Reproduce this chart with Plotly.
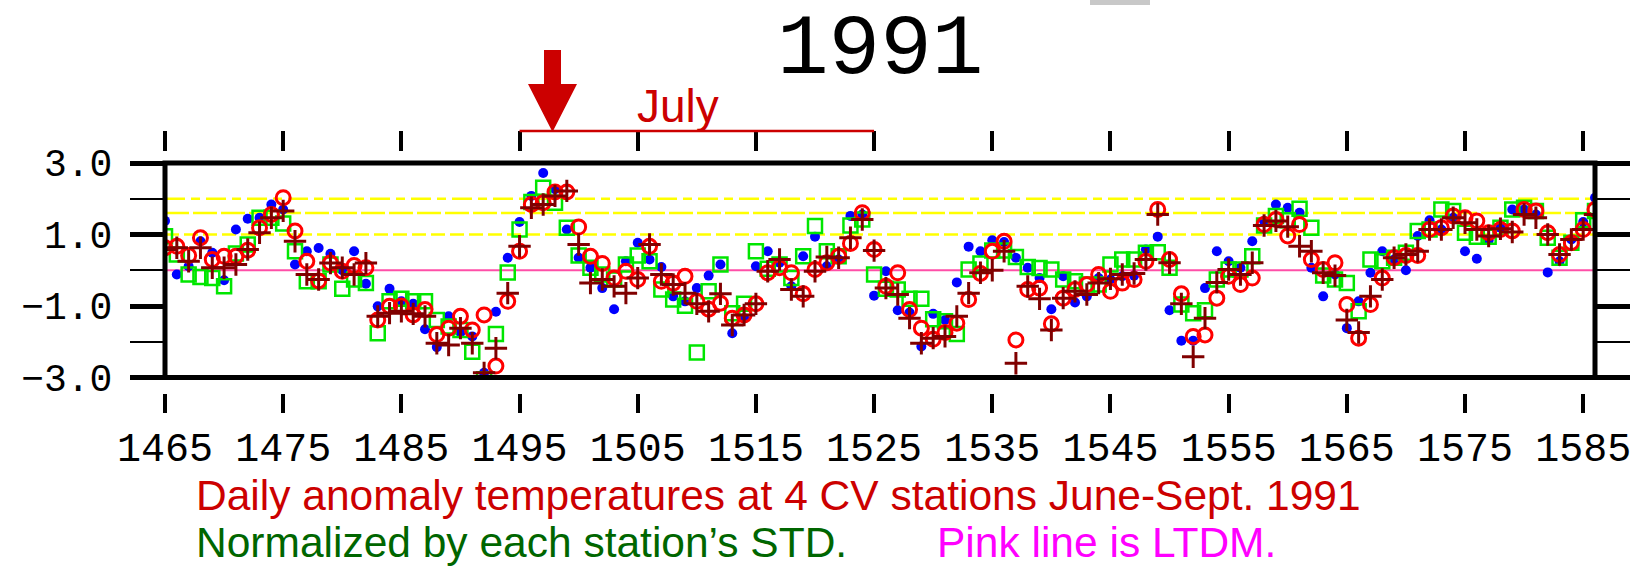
import plotly.graph_objects as go

# ---- data: daily anomalies, day index 1465..1586 (June - Sept 1991) ----
days = list(range(1465, 1587))

station_blue = [
    1.38, -0.12, 0.11, 0.81, 0.49, -0.28, 1.14, 1.44, 1.47, 1.84,
    1.70, 0.16, 0.53, 0.62, 0.46, 0.00, 0.53, -0.38, -1.01, -0.52,
    -0.87, -0.94, -1.65, -2.15, -1.29, -1.74, -1.85, -2.87, -1.16, 0.35,
    1.35, 2.08, 2.72, 2.27, 1.14, 0.35, 0.07, -0.50, -1.09, 0.25,
    0.77, 0.30, 0.09, -0.73, -0.87, -0.50, -0.15, 0.16, -1.76, -1.34,
    0.11, 0.53, 0.21, -0.45, 0.39, 0.94, 0.11, 0.30, 1.52, 1.56,
    -0.71, -0.03, -1.12, -1.18, -2.13, -1.22, -1.39, -0.34, 0.66, 0.53,
    0.84, 0.79, 0.35, 0.07, -0.22, -1.09, -0.17, -0.90, -0.73, -0.22,
    -0.26, -0.17, -0.15, 0.58, 0.94, -1.12, -1.97, -1.97, -0.50, 0.53,
    0.25, 0.07, 0.81, 1.38, 1.84, 1.75, 1.61, 0.07, -0.73, -0.12,
    -1.62, -0.87, -0.07, 0.53, 0.30, 0.00, 0.96, 1.40, 1.14, 1.47,
    0.53, 0.32, 0.84, 1.19, 1.70, 1.70, 1.56, -0.06, 0.25, 0.86,
    1.35, 2.03,
]

station_red = [
    0.63, 0.67, 0.41, 0.91, 0.30, 0.39, 0.39, 0.56, 1.19, 1.56,
    2.03, 1.10, 0.25, -0.30, 0.20, -0.03, 0.13, 0.07, -1.39, -1.01,
    -1.00, -1.25, -1.10, -1.80, -1.62, -1.29, -1.67, -1.25, -2.68, -0.87,
    0.53, 1.84, 1.89, 2.19, 2.19, 1.21, 0.39, 0.19, -0.22, -0.03,
    -0.26, 0.67, -0.31, -0.36, -0.17, -0.87, -1.09, -0.92, -1.34, -1.25,
    -0.94, -0.07, 0.07, -0.07, -0.66, 0.02, 0.21, 0.39, 0.75, 1.61,
    0.58, -0.45, -0.07, -1.10, -1.62, -1.93, -1.74, -1.48, -0.82, -0.09,
    0.53, 0.81, -1.95, -0.54, -0.50, -1.50, -0.78, -0.54, -0.40, -0.12,
    -0.59, -0.36, -0.26, 0.25, 1.70, 0.30, -0.66, -1.85, -1.81, -0.78,
    -0.17, -0.40, -0.22, 1.28, 1.42, 0.96, 1.28, 0.30, 0.02, 0.21,
    -0.96, -1.90, -0.96, -0.22, 0.35, 0.41, 0.41, 1.14, 1.19, 1.52,
    1.47, 1.38, 1.05, 1.14, 1.10, 1.70, 1.66, 1.05, 0.44, 0.77,
    1.14, 1.70,
]

station_plus = [
    0.58, 0.63, 0.25, 0.63, 0.07, 0.07, 0.16, 0.58, 1.05, 1.47,
    1.66, 0.81, -0.12, -0.26, 0.20, 0.07, -0.12, 0.20, -1.29, -1.20,
    -1.15, -1.22, -1.29, -2.04, -2.09, -1.62, -2.04, -2.87, -2.18, -0.64,
    0.67, 1.75, 1.84, 2.08, 2.22, 0.72, -0.36, -0.26, -0.45, -0.64,
    -0.22, 0.72, -0.12, -0.40, -0.64, -0.94, -1.15, -0.66, -1.53, -1.25,
    -0.94, -0.03, 0.30, -0.54, -0.73, -0.03, 0.37, 0.35, 0.91, 1.42,
    0.55, -0.50, -0.68, -1.34, -2.04, -1.90, -1.85, -1.29, -0.64, -0.07,
    0.00, 0.53, -2.60, -0.45, -0.80, -1.67, -0.78, -0.59, -0.68, -0.36,
    -0.24, -0.12, -0.09, 0.30, 1.56, 0.21, -0.94, -2.42, -1.34, -0.34,
    0.02, -0.12, 0.21, 1.25, 1.38, 1.22, 0.67, 0.53, -0.07, -0.15,
    -1.39, -1.74, -0.73, -0.26, 0.35, 0.44, 0.53, 1.14, 1.14, 1.47,
    1.33, 1.14, 0.96, 1.16, 1.07, 1.56, 1.47, 1.00, 0.44, 0.86,
    1.14, 1.56,
]

station_green = [
    0.95, 0.44, -0.12, -0.19, -0.22, -0.45, 0.47, 0.72, 1.47, 1.47,
    1.31, 0.53, -0.31, -0.31, 0.16, -0.52, -0.26, -0.36, -1.76, -0.87,
    -0.80, -0.87, -0.87, -1.39, -1.57, -1.67, -2.28, -3.05, -1.78, -0.06,
    1.14, 1.91, 2.31, 1.89, 1.19, 0.41, 0.07, -0.12, -0.26, 0.16,
    0.41, 0.25, -0.54, -0.82, -0.99, -2.30, -0.59, 0.16, -1.20, -0.94,
    0.53, 0.04, 0.16, -0.22, 0.39, 1.24, 0.53, 0.39, 1.25, 1.42,
    -0.12, -0.52, -0.54, -0.80, -0.80, -1.37, -1.43, -1.78, 0.02, 0.19,
    0.55, 0.55, 0.37, 0.09, 0.06, 0.02, -0.26, -0.31, -0.40, -0.40,
    0.16, 0.30, 0.30, 0.49, 0.50, 0.07, -0.96, -1.20, -1.12, -0.26,
    0.02, 0.02, 0.39, 1.25, 1.52, 1.40, 1.72, 1.19, -0.15, -0.26,
    -0.36, -1.15, 0.30, 0.25, 0.35, 0.49, 1.10, 1.14, 1.70, 1.66,
    1.05, 0.94, 0.94, 1.19, 1.70, 1.75, 1.66, 0.91, 0.35, 0.77,
    1.40, 1.66,
]

# reference levels
ltdm_level = 0.0
yellow_levels = [1.0, 1.6, 2.0]
yellow_dashes = ["14px,5px", "24px,4px", "20px,6px,9px,6px"]

# axes
x_range = [1465, 1586]
x_tickvals = list(range(1465, 1586, 10))
x_ticktext = [str(v) for v in x_tickvals]
y_range = [-3, 3]
y_tickvals = [-3, -1, 1, 3]
y_ticktext = ["\u22123.0", "\u22121.0", "1.0", "3.0"]
y_minor_vals = [-2, 0, 2]

july_span = [1495, 1525]

# ---- figure geometry (pixel -> paper helpers) ----
W, H = 1643, 567


def px(x):
    return x / W


def py(y):
    return 1 - y / H


MONO = "Liberation Mono"
SANS = "Liberation Sans, Arial"

fig = go.Figure()

fig.add_trace(go.Scatter(
    x=days, y=station_blue, mode="markers", showlegend=False,
    marker=dict(symbol="circle", size=10, color="#0000ff", line=dict(width=0)),
))
fig.add_trace(go.Scatter(
    x=days, y=station_green, mode="markers", showlegend=False,
    marker=dict(symbol="square-open", size=14, color="#00e600",
                line=dict(width=2.5, color="#00e600")),
))
fig.add_trace(go.Scatter(
    x=days, y=station_red, mode="markers", showlegend=False,
    marker=dict(symbol="circle-open", size=14, color="#ff0000",
                line=dict(width=3, color="#ff0000")),
))
fig.add_trace(go.Scatter(
    x=days, y=station_plus, mode="markers", showlegend=False,
    marker=dict(symbol="cross-thin-open", size=16, color="#800000",
                line=dict(width=3, color="#800000")),
))
# empty trace to carry the top tick axis
fig.add_trace(go.Scatter(x=[], y=[], xaxis="x2", showlegend=False,
                         hoverinfo="skip"))

shapes = []
# reference lines
for lvl, dash in zip(yellow_levels, yellow_dashes):
    shapes.append(dict(type="line", xref="x domain", yref="y", x0=0, x1=1,
                       y0=lvl, y1=lvl, layer="below",
                       line=dict(color="#ffff00", width=2.5, dash=dash)))
shapes.append(dict(type="line", xref="x domain", yref="y", x0=0, x1=1,
                   y0=ltdm_level, y1=ltdm_level, layer="below",
                   line=dict(color="#ff4fa8", width=2)))
# frame
shapes.append(dict(type="rect", xref="x domain", yref="y domain",
                   x0=0, x1=1, y0=0, y1=1, layer="above",
                   line=dict(color="black", width=5)))
# July bracket line
shapes.append(dict(type="line", xref="x", yref="paper",
                   x0=july_span[0], x1=july_span[1], y0=py(131), y1=py(131),
                   line=dict(color="#cc0000", width=2.5)))
# red arrow (shaft + head)
ax_c = 552.5
arrow_path = (
    f"M {px(ax_c - 8.5)},{py(50)} L {px(ax_c + 8.5)},{py(50)} "
    f"L {px(ax_c + 8.5)},{py(84)} L {px(ax_c + 24.5)},{py(84)} "
    f"L {px(ax_c)},{py(132)} L {px(ax_c - 24.5)},{py(84)} "
    f"L {px(ax_c - 8.5)},{py(84)} Z"
)
shapes.append(dict(type="path", xref="paper", yref="paper", path=arrow_path,
                   fillcolor="#cc0000", line=dict(width=0)))
# small grey block at the top edge
shapes.append(dict(type="rect", xref="paper", yref="paper",
                   x0=px(1090), x1=px(1150), y0=py(5), y1=py(0),
                   fillcolor="#c8c8c8", line=dict(width=0)))

annotations = [
    dict(text="1991", x=px(880), y=py(50), xref="paper", yref="paper",
         showarrow=False, xanchor="center", yanchor="middle",
         font=dict(family=MONO, size=86, color="black")),
    dict(text="July", x=px(677.5), y=py(106), xref="paper", yref="paper",
         showarrow=False, xanchor="center", yanchor="middle",
         font=dict(family=SANS, size=46, color="#cc0000")),
    dict(text="Daily anomaly temperatures at 4 CV stations June-Sept. 1991",
         x=px(194), y=py(495), xref="paper", yref="paper", showarrow=False,
         xanchor="left", yanchor="middle",
         font=dict(family=SANS, size=42.5, color="#cc0000")),
    dict(text="Normalized by each station\u2019s STD.",
         x=px(194), y=py(542.5), xref="paper", yref="paper", showarrow=False,
         xanchor="left", yanchor="middle",
         font=dict(family=SANS, size=42.5, color="#006600")),
    dict(text="Pink line is LTDM.",
         x=px(935), y=py(542.5), xref="paper", yref="paper", showarrow=False,
         xanchor="left", yanchor="middle",
         font=dict(family=SANS, size=42.5, color="#ff00ff")),
]

fig.update_layout(
    width=W, height=H,
    margin=dict(l=0, r=0, t=0, b=0),
    paper_bgcolor="white", plot_bgcolor="white",
    showlegend=False,
    xaxis=dict(
        domain=[px(165), px(1595)], range=x_range,
        anchor="free", position=py(393),
        tickmode="array", tickvals=x_tickvals, ticktext=x_ticktext,
        ticks="outside", ticklen=19, tickwidth=4, tickcolor="black",
        showline=False, showgrid=False, zeroline=False,
        tickfont=dict(family=MONO, size=40, color="black"),
        automargin=False,
    ),
    xaxis2=dict(
        overlaying="x", matches="x", side="top",
        anchor="free", position=py(151), range=x_range,
        tickmode="array", tickvals=x_tickvals,
        ticks="outside", ticklen=20, tickwidth=4, tickcolor="black",
        showticklabels=False, showline=False, showgrid=False, zeroline=False,
        automargin=False,
    ),
    yaxis=dict(
        domain=[py(377.5), py(163)], range=y_range,
        tickmode="array", tickvals=y_tickvals, ticktext=y_ticktext,
        ticks="outside", ticklen=34, tickwidth=5, tickcolor="black",
        mirror="allticks", showline=False, showgrid=False, zeroline=False,
        minor=dict(tickvals=y_minor_vals, ticks="outside", ticklen=17,
                   tickwidth=2, tickcolor="black", showgrid=False),
        ticklabelstandoff=10,
        tickfont=dict(family=MONO, size=38, color="black"),
        automargin=False,
    ),
    shapes=shapes,
    annotations=annotations,
)

fig.write_html("out.html")
